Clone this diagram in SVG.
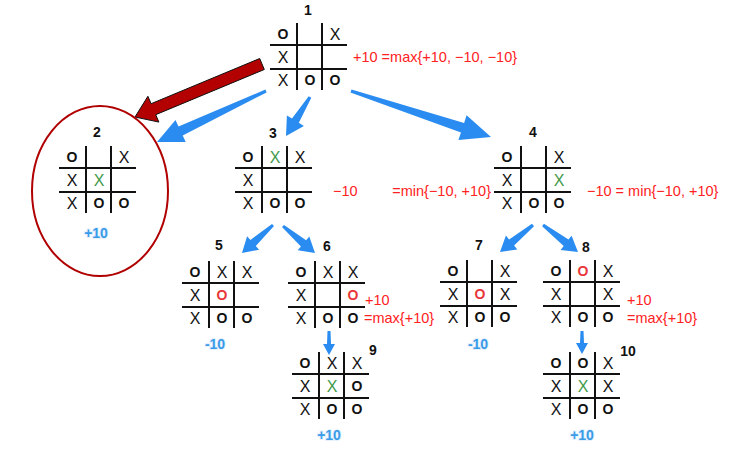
<svg xmlns="http://www.w3.org/2000/svg" xmlns:xlink="http://www.w3.org/1999/xlink" width="749" height="449" viewBox="0 0 749 449">
<style>
  .grid line { stroke: #111; stroke-width: 2; }
  .x { font-family: "Liberation Sans", Arial, sans-serif; font-size: 16px; fill: #111; text-anchor: middle; }
  .o { font-family: "Liberation Sans", Arial, sans-serif; font-size: 14px; font-weight: bold; fill: #111; text-anchor: middle; }
  .gx { fill: #3f9a4a; }
  .ro { fill: #e8373a; }
  .num { font-family: "Liberation Sans", Arial, sans-serif; font-size: 14px; font-weight: bold; fill: #111; text-anchor: middle; stroke: #fff; stroke-width: 2.5px; paint-order: stroke; }
  .val { font-family: "Liberation Sans", Arial, sans-serif; font-size: 14px; font-weight: bold; fill: #3a9be8; text-anchor: middle; stroke: #e6f1fc; stroke-width: 2px; paint-order: stroke; }
  .red { font-family: "Liberation Sans", Arial, sans-serif; font-size: 14.5px; fill: #ff2222; }
  .blue { fill: #2a8cf0; }
</style>
<defs>
  <g id="grid" class="grid">
    <line x1="27" y1="0" x2="27" y2="67"/>
    <line x1="52" y1="0" x2="52" y2="67"/>
    <line x1="0" y1="22" x2="77" y2="22"/>
    <line x1="0" y1="46" x2="77" y2="46"/>
  </g>
</defs>

<g id="connectors">
  <polygon id="red-arrow" points="259.7,58.5 151.1,103.7 147.9,96.3 135,117 158.9,122.1 155.7,114.7 264.3,69.5" fill="#b30000" stroke="#111" stroke-width="1"/>
  <polygon class="blue" points="265.4,89.6 178.5,126.5 175.5,120.1 157,142 185.7,141.9 182.7,135.5 266.6,92.4"/>
  <polygon class="blue" points="308.7,96.2 292.0,118.6 286.9,115.5 286,136 303.9,125.9 298.8,122.8 311.3,97.8"/>
  <polygon class="blue" points="351.5,89.6 464.1,122.9 466.6,115.2 491,137 458.4,140.0 461.0,132.4 350.5,92.4"/>
  <polygon class="blue" points="272.0,223.9 250.4,240.0 247.1,236.3 242,253 259.1,249.7 255.8,246.0 274.0,226.1"/>
  <polygon class="blue" points="284.0,224.9 306.1,240.2 309.3,236.4 315,253 297.7,250.2 300.9,246.4 282.0,227.1"/>
  <polygon class="blue" points="532.0,223.8 509.1,239.4 505.9,235.5 500,252 517.3,249.5 514.1,245.6 534.0,226.2"/>
  <polygon class="blue" points="543.9,223.8 568.5,239.6 571.6,235.7 578,252 560.6,249.9 563.7,246.0 542.1,226.2"/>
  <polygon class="blue" points="327.5,331 327,344 323,344 329,355 335,344 331,344 330.5,331"/>
  <polygon class="blue" points="580.5,331 580,343 576,343 582,354 588,343 584,343 583.5,331"/>
</g>

<g id="node1">
  <text class="num" x="308" y="15">1</text>
  <g transform="translate(270,23)">
    <use xlink:href="#grid"/>
    <text class="o" x="13" y="16">O</text><text class="x" x="65" y="17">X</text>
    <text class="x" x="13" y="40">X</text>
    <text class="x" x="13" y="63">X</text><text class="o" x="40" y="62">O</text><text class="o" x="65" y="62">O</text>
  </g>
  <text class="red" x="353" y="62">+10 =max{+10, −10, −10}</text>
</g>

<g id="node2">
  <ellipse cx="100" cy="191" rx="68" ry="85" fill="none" stroke="#b00000" stroke-width="2"/>
  <text class="num" x="97" y="137">2</text>
  <g transform="translate(59,146)">
    <use xlink:href="#grid"/>
    <text class="o" x="13" y="16">O</text><text class="x" x="65" y="17">X</text>
    <text class="x" x="13" y="40">X</text><text class="x gx" x="40" y="40">X</text>
    <text class="x" x="13" y="63">X</text><text class="o" x="40" y="62">O</text><text class="o" x="65" y="62">O</text>
  </g>
  <text class="val" x="96" y="238">+10</text>
</g>

<g id="node3">
  <text class="num" x="273" y="138">3</text>
  <g transform="translate(235,146)">
    <use xlink:href="#grid"/>
    <text class="o" x="13" y="16">O</text><text class="x gx" x="40" y="17">X</text><text class="x" x="65" y="17">X</text>
    <text class="x" x="13" y="40">X</text>
    <text class="x" x="13" y="63">X</text><text class="o" x="40" y="62">O</text><text class="o" x="65" y="62">O</text>
  </g>
  <text class="red" x="333" y="196">−10</text>
  <text class="red" x="491" y="196" text-anchor="end">=min{−10, +10}</text>
</g>

<g id="node4">
  <text class="num" x="533" y="137">4</text>
  <g transform="translate(494,146)">
    <use xlink:href="#grid"/>
    <text class="o" x="13" y="16">O</text><text class="x" x="65" y="17">X</text>
    <text class="x" x="13" y="40">X</text><text class="x gx" x="65" y="40">X</text>
    <text class="x" x="13" y="63">X</text><text class="o" x="40" y="62">O</text><text class="o" x="65" y="62">O</text>
  </g>
  <text class="red" x="587" y="196">−10 = min{−10, +10}</text>
</g>

<g id="node5">
  <text class="num" x="219" y="250">5</text>
  <g transform="translate(182,261)">
    <use xlink:href="#grid"/>
    <text class="o" x="13" y="16">O</text><text class="x" x="40" y="17">X</text><text class="x" x="65" y="17">X</text>
    <text class="x" x="13" y="40">X</text><text class="o ro" x="40" y="39">O</text>
    <text class="x" x="13" y="63">X</text><text class="o" x="40" y="62">O</text><text class="o" x="65" y="62">O</text>
  </g>
  <text class="val" x="215" y="349">-10</text>
</g>

<g id="node6">
  <text class="num" x="327" y="251">6</text>
  <g transform="translate(288,261)">
    <use xlink:href="#grid"/>
    <text class="o" x="13" y="16">O</text><text class="x" x="40" y="17">X</text><text class="x" x="65" y="17">X</text>
    <text class="x" x="13" y="40">X</text><text class="o ro" x="65" y="39">O</text>
    <text class="x" x="13" y="63">X</text><text class="o" x="40" y="62">O</text><text class="o" x="65" y="62">O</text>
  </g>
  <text class="red" x="365" y="305">+10</text>
  <text class="red" x="364" y="323">=max{+10}</text>
</g>

<g id="node7">
  <text class="num" x="479" y="250">7</text>
  <g transform="translate(440,260)">
    <use xlink:href="#grid"/>
    <text class="o" x="13" y="16">O</text><text class="x" x="65" y="17">X</text>
    <text class="x" x="13" y="40">X</text><text class="o ro" x="40" y="39">O</text><text class="x" x="65" y="40">X</text>
    <text class="x" x="13" y="63">X</text><text class="o" x="40" y="62">O</text><text class="o" x="65" y="62">O</text>
  </g>
  <text class="val" x="478" y="349">-10</text>
</g>

<g id="node8">
  <text class="num" x="586" y="252">8</text>
  <g transform="translate(543,260)">
    <use xlink:href="#grid"/>
    <text class="o" x="13" y="16">O</text><text class="o ro" x="40" y="16">O</text><text class="x" x="65" y="17">X</text>
    <text class="x" x="13" y="40">X</text><text class="x" x="65" y="40">X</text>
    <text class="x" x="13" y="63">X</text><text class="o" x="40" y="62">O</text><text class="o" x="65" y="62">O</text>
  </g>
  <text class="red" x="627" y="305">+10</text>
  <text class="red" x="627" y="323">=max{+10}</text>
</g>

<g id="node9">
  <text class="num" x="373" y="355">9</text>
  <g transform="translate(292,352)">
    <use xlink:href="#grid"/>
    <text class="o" x="13" y="16">O</text><text class="x" x="40" y="17">X</text><text class="x" x="65" y="17">X</text>
    <text class="x" x="13" y="40">X</text><text class="x gx" x="40" y="40">X</text><text class="o" x="65" y="39">O</text>
    <text class="x" x="13" y="63">X</text><text class="o" x="40" y="62">O</text><text class="o" x="65" y="62">O</text>
  </g>
  <text class="val" x="329" y="440">+10</text>
</g>

<g id="node10">
  <text class="num" x="628" y="356">10</text>
  <g transform="translate(543,352)">
    <use xlink:href="#grid"/>
    <text class="o" x="13" y="16">O</text><text class="o" x="40" y="16">O</text><text class="x" x="65" y="17">X</text>
    <text class="x" x="13" y="40">X</text><text class="x gx" x="40" y="40">X</text><text class="x" x="65" y="40">X</text>
    <text class="x" x="13" y="63">X</text><text class="o" x="40" y="62">O</text><text class="o" x="65" y="62">O</text>
  </g>
  <text class="val" x="582" y="440">+10</text>
</g>
</svg>
